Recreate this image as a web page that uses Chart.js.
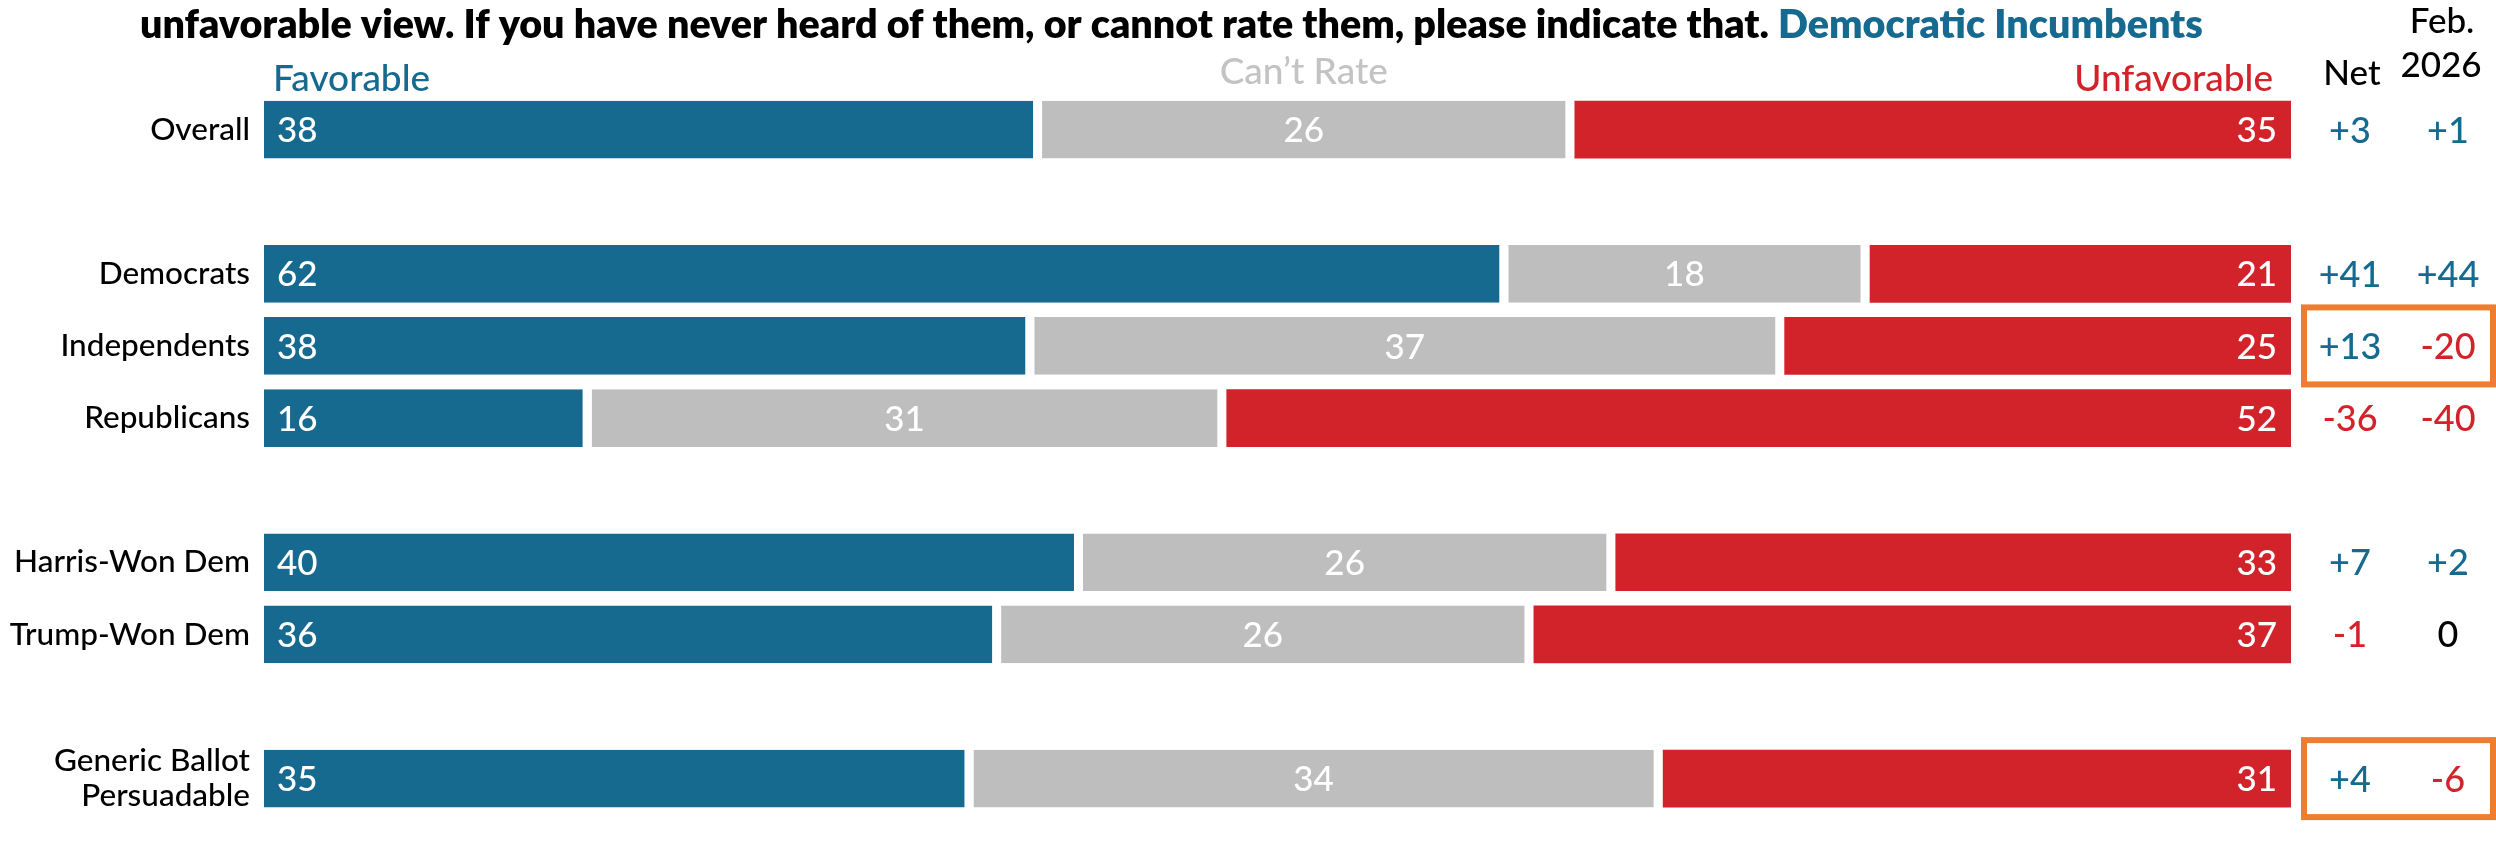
<!DOCTYPE html>
<html>
<head>
<meta charset="utf-8">
<script src="https://cdn.jsdelivr.net/npm/chart.js@4.4.1/dist/chart.umd.min.js"></script>
<style>
  html, body { margin: 0; padding: 0; background: #ffffff; overflow: hidden; width: 2496px; height: 844px; }
  #wrap { position: relative; width: 2496px; height: 846px; }
</style>
</head>
<body>
<div id="wrap"><canvas id="c"></canvas></div>
<script>
// ---------------- DATA ----------------
const categories = ['Overall', 'Democrats', 'Independents', 'Republicans', 'Harris-Won Dem', 'Trump-Won Dem', ['Generic Ballot', 'Persuadable']];
const groupStarts = [1, 4, 6];          // rows that begin a new group (a blank row is placed before them)
const favorable   = [38, 62, 38, 16, 40, 36, 35];
const cantRate    = [26, 18, 37, 31, 26, 26, 34];
const unfavorable = [35, 21, 25, 52, 33, 37, 31];
const net         = [3, 41, 13, -36, 7, -1, 4];
const feb2026     = [1, 44, -20, -40, 2, 0, -6];
const highlighted = [false, false, true, false, false, false, true];
const seriesNames = ['Favorable', 'Can\u2019t Rate', 'Unfavorable'];
const columnHeads = [['Net'], ['Feb.', '2026']];
const titleText   = 'unfavorable view. If you have never heard of them, or cannot rate them, please indicate that.';
const titleAccent = 'Democratic Incumbents';

// ---------------- STYLE ----------------
const BLUE = '#166a90';
const RED = '#d3232a';
const GRAY = '#bebebe';
const GRAY_TEXT = '#c3c3c3';
const ORANGE = '#ed7d31';
const FONT = 'Lato, "Open Sans", sans-serif';

// ---------------- BUILD ----------------
const labels = [];
const rowOf = [];
categories.forEach((c, i) => {
  if (groupStarts.includes(i)) { labels.push(''); rowOf.push(-1); }
  labels.push(c); rowOf.push(i);
});
const totals = categories.map((_, i) => favorable[i] + cantRate[i] + unfavorable[i]);
const shareOf = arr => rowOf.map(r => r < 0 ? null : arr[r] / totals[r] * 100);
const rawOf = arr => rowOf.map(r => r < 0 ? null : arr[r]);

const GAP = 9;
const datasets = [
  { label: seriesNames[0], data: shareOf(favorable), raw: rawOf(favorable), backgroundColor: BLUE,
    borderColor: '#ffffff', borderWidth: { top: 0, bottom: 0, left: 0, right: GAP }, borderSkipped: false, labelAlign: 'left' },
  { label: seriesNames[1], data: shareOf(cantRate), raw: rawOf(cantRate), backgroundColor: GRAY,
    borderColor: '#ffffff', borderWidth: { top: 0, bottom: 0, left: 0, right: GAP }, borderSkipped: false, labelAlign: 'center' },
  { label: seriesNames[2], data: shareOf(unfavorable), raw: rawOf(unfavorable), backgroundColor: RED,
    borderWidth: 0, borderSkipped: false, labelAlign: 'right' }
];

function signText(v) { return v > 0 ? '+' + v : String(v); }
function signColor(v) { return v > 0 ? BLUE : (v < 0 ? RED : '#000000'); }

const overlay = {
  id: 'overlay',
  afterDatasetsDraw(chart) {
    const ctx = chart.ctx;
    const area = chart.chartArea;
    const yScale = chart.scales.y;
    ctx.save();

    // values inside the bars
    const valSize = 35;
    ctx.font = `500 ${valSize}px ${FONT}`;
    ctx.fillStyle = '#ffffff';
    ctx.textBaseline = 'alphabetic';
    chart.data.datasets.forEach((ds, di) => {
      const meta = chart.getDatasetMeta(di);
      meta.data.forEach((el, j) => {
        const raw = ds.raw[j];
        if (raw === null || raw === undefined) return;
        const y = el.y + valSize * 0.36;
        const start = Math.min(el.base, el.x);
        const end = Math.max(el.base, el.x);
        if (ds.labelAlign === 'left') {
          ctx.textAlign = 'left';
          ctx.fillText(String(raw), start + 13, y);
        } else if (ds.labelAlign === 'center') {
          ctx.textAlign = 'center';
          ctx.fillText(String(raw), (start + end - GAP) / 2, y);
        } else {
          ctx.textAlign = 'right';
          ctx.fillText(String(raw), end - 14, y);
        }
      });
    });

    // title line (fitted to its measured width in the reference)
    const titleLeft = 140, titleRight = 2203;
    ctx.textAlign = 'left';
    ctx.font = `800 100px ${FONT}`;
    const w1 = ctx.measureText(titleText + ' ').width;
    const w2 = ctx.measureText(titleAccent).width;
    const tSize = 100 * (titleRight - titleLeft) / (w1 + w2);
    ctx.font = `800 ${tSize}px ${FONT}`;
    ctx.fillStyle = '#000000';
    ctx.fillText(titleText + ' ', titleLeft, 38);
    const tw = ctx.measureText(titleText + ' ').width;
    ctx.fillStyle = BLUE;
    ctx.fillText(titleAccent, titleLeft + tw, 38);

    // series headers above the first row
    const first = chart.getDatasetMeta(0).data[0];
    const barTop = first.y - first.height / 2;
    ctx.font = `500 37px ${FONT}`;
    ctx.fillStyle = BLUE;
    ctx.textAlign = 'left';
    ctx.fillText(seriesNames[0], area.left + 9, barTop - 10);
    const g = chart.getDatasetMeta(1).data[0];
    ctx.fillStyle = GRAY_TEXT;
    ctx.textAlign = 'center';
    ctx.fillText(seriesNames[1], (Math.min(g.base, g.x) + Math.max(g.base, g.x) - GAP) / 2, barTop - 17);
    ctx.fillStyle = RED;
    ctx.textAlign = 'right';
    ctx.fillText(seriesNames[2], area.right - 18, barTop - 10);

    // right-hand columns
    const colX = [area.right + 59, area.right + 157];
    ctx.font = `500 35px ${FONT}`;
    ctx.fillStyle = '#000000';
    ctx.textAlign = 'center';
    ctx.fillText(columnHeads[0][0], colX[0] + 2, 85);
    ctx.fillText(columnHeads[1][0], colX[1] - 6, 33);
    ctx.fillText(columnHeads[1][1], colX[1] - 7, 77);

    ctx.font = `500 36px ${FONT}`;
    rowOf.forEach((r, idx) => {
      if (r < 0) return;
      const cy = yScale.getPixelForValue(idx);
      const by = cy + 36 * 0.36;
      ctx.fillStyle = signColor(net[r]);
      ctx.fillText(signText(net[r]), colX[0], by);
      ctx.fillStyle = signColor(feb2026[r]);
      ctx.fillText(signText(feb2026[r]), colX[1], by);
      if (highlighted[r]) {
        ctx.strokeStyle = ORANGE;
        ctx.lineWidth = 6;
        ctx.strokeRect(area.right + 13, cy - 38.5, 2493 - (area.right + 13), 77);
      }
    });
    ctx.restore();
  }
};

new Chart(document.getElementById('c'), {
  type: 'bar',
  data: { labels, datasets },
  options: {
    indexAxis: 'y',
    responsive: true,
    maintainAspectRatio: false,
    animation: false,
    events: [],
    layout: { padding: { top: 93.5, right: 205, bottom: 0, left: 0 } },
    datasets: { bar: { categoryPercentage: 0.8, barPercentage: 1.0 } },
    plugins: { legend: { display: false }, tooltip: { enabled: false }, title: { display: false } },
    scales: {
      x: { stacked: true, display: false, min: 0, max: 100 },
      y: {
        stacked: true,
        grid: { display: false, drawTicks: false },
        border: { display: false },
        ticks: { color: '#000000', padding: 14, font: { family: FONT, size: 31.5, weight: '500', lineHeight: 1.1 } },
        afterFit(scale) { scale.width = 264; }
      }
    }
  },
  plugins: [overlay]
});
</script>
</body>
</html>
